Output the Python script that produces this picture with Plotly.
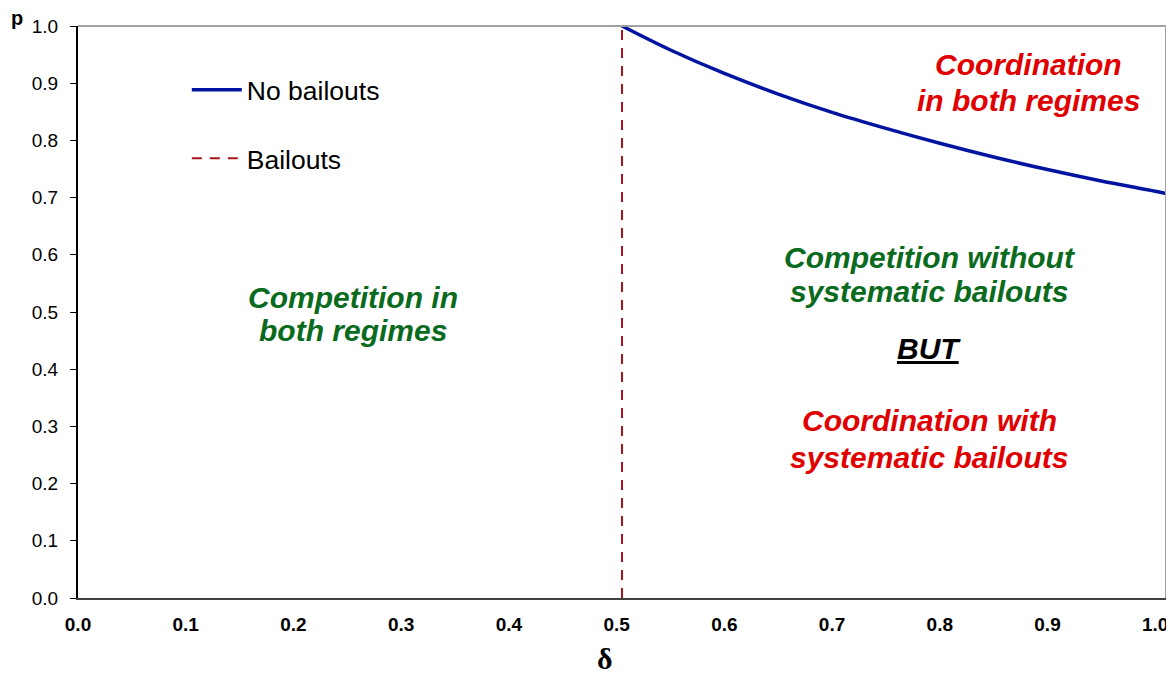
import plotly.graph_objects as go

# Data
delta_curve = [0.505, 0.55, 0.60, 0.65, 0.70, 0.75, 0.80, 0.85, 0.90, 0.95, 1.00, 1.01]
p_no_bailouts = [1.000, 0.958, 0.917, 0.881, 0.849, 0.821, 0.795, 0.771, 0.749, 0.729, 0.711, 0.707]
delta_bailouts = [0.505, 0.505]
p_bailouts = [0.0, 1.0]
x_ticks = [0.0, 0.1, 0.2, 0.3, 0.4, 0.5, 0.6, 0.7, 0.8, 0.9, 1.0]
y_ticks = [0.0, 0.1, 0.2, 0.3, 0.4, 0.5, 0.6, 0.7, 0.8, 0.9, 1.0]

FONT = "Liberation Sans, Arial, sans-serif"
RED = "#e00000"
GREEN = "#0a6b1e"

fig = go.Figure()
fig.add_trace(go.Scatter(
    x=delta_curve, y=p_no_bailouts, mode="lines", name="No bailouts",
    line=dict(color="#0014a0", width=3.5, shape="spline"), legendgroup="a"))
fig.add_trace(go.Scatter(
    x=delta_bailouts, y=p_bailouts, mode="lines", name="Bailouts",
    line=dict(color="#a8141c", width=2, dash="10px,8px"), legendgroup="b"))

texts = [
    ("Coordination", 0.882, 0.932, RED),
    ("in both regimes", 0.882, 0.8706, RED),
    ("Competition without", 0.791, 0.596, GREEN),
    ("systematic bailouts", 0.790, 0.535, GREEN),
    ("<u>BUT</u>", 0.790, 0.437, "black"),
    ("Coordination with", 0.790, 0.311, RED),
    ("systematic bailouts", 0.790, 0.2465, RED),
    ("Competition in", 0.2553, 0.5245, GREEN),
    ("both regimes", 0.2553, 0.4685, GREEN),
]
for t, x, y, c in texts:
    fig.add_annotation(x=x, y=y, xref="x", yref="y", text="<b><i>" + t + "</i></b>",
                       showarrow=False, font=dict(family=FONT, size=30, color=c),
                       xanchor="center", yanchor="middle")

fig.add_annotation(x=-0.056, y=1.014, xref="paper", yref="paper", text="<b>p</b>",
                   showarrow=False, font=dict(family=FONT, size=20, color="black"),
                   xanchor="center", yanchor="middle")
fig.add_annotation(x=0.484, y=-0.105, xref="paper", yref="paper", text="<b>δ</b>",
                   showarrow=False, font=dict(family="Liberation Serif, Times New Roman, serif", size=30, color="black"),
                   xanchor="center", yanchor="middle")

# grey top and right frame
fig.add_shape(type="line", xref="paper", yref="paper", x0=0, x1=1, y0=1, y1=1,
              line=dict(color="#a0a0a0", width=2))
fig.add_shape(type="line", xref="paper", yref="paper", x0=1, x1=1, y0=0, y1=1,
              line=dict(color="#a0a0a0", width=2))

fig.update_layout(
    width=1166, height=667,
    margin=dict(l=70, r=8, t=18, b=77),
    paper_bgcolor="white", plot_bgcolor="white",
    showlegend=True,
    legend=dict(x=0.100, y=0.930, xanchor="left", yanchor="top",
                font=dict(family=FONT, size=26.5, color="black"),
                itemwidth=50, tracegroupgap=31, bgcolor="rgba(0,0,0,0)"),
    xaxis=dict(range=[0, 1.01], tickvals=x_ticks, ticktext=[f"{v:.1f}" for v in x_ticks],
               showgrid=False, zeroline=False, showline=True, linecolor="#404040", linewidth=2,
               ticks="", automargin=False, ticklabeloverflow="allow", ticklabelstandoff=8,
               tickfont=dict(family=FONT, size=19, color="black", weight="bold")),
    yaxis=dict(range=[0, 1], tickvals=y_ticks, ticktext=[f"{v:.1f}" for v in y_ticks],
               showgrid=False, zeroline=False, showline=True, linecolor="black", linewidth=2,
               ticks="outside", ticklen=6, tickcolor="black", automargin=False,
               ticklabelstandoff=8,
               tickfont=dict(family=FONT, size=19, color="black")),
)

fig.write_html("out.html")
